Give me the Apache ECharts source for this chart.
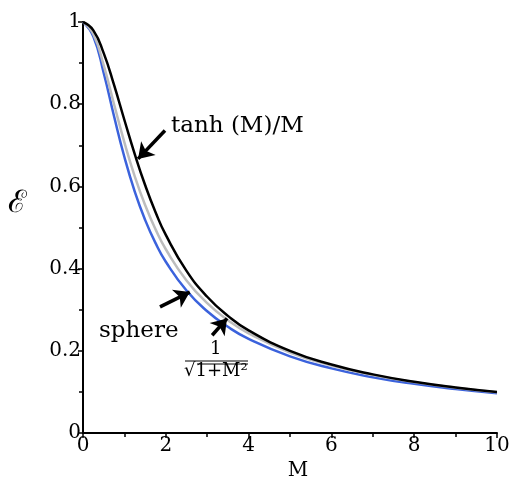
<!DOCTYPE html>
<html>
<head>
<meta charset="utf-8">
<script src="https://cdn.jsdelivr.net/npm/echarts@6/dist/echarts.min.js"></script>
<style>
  html, body { margin: 0; padding: 0; background: #fff; }
  #chart { width: 513px; height: 486px; }
</style>
</head>
<body>
<div id="chart"></div>
<script>
var M = [0, 0.25, 0.5, 0.75, 1, 1.25, 1.5, 1.75, 2, 2.5, 3, 3.5, 4, 5, 6, 7, 8, 9, 10];
// tanh(M)/M
var slab = [1, 0.9797, 0.9242, 0.8468, 0.7616, 0.6787, 0.6034, 0.5379, 0.4820, 0.3946, 0.3317, 0.2852, 0.2498, 0.2000, 0.1667, 0.1429, 0.1250, 0.1111, 0.1000];
// 1/sqrt(1+M^2)
var approx = [1, 0.9701, 0.8944, 0.8000, 0.7071, 0.6247, 0.5547, 0.4961, 0.4472, 0.3714, 0.3162, 0.2747, 0.2425, 0.1961, 0.1644, 0.1414, 0.1240, 0.1104, 0.0995];
// sphere
var sphere = [1, 0.9648, 0.8763, 0.7708, 0.6716, 0.5875, 0.5187, 0.4626, 0.4167, 0.3467, 0.2963, 0.2585, 0.2292, 0.1867, 0.1574, 0.1361, 0.1198, 0.1070, 0.0967];

// arrows [from, to] in data units
var arrows = [
  [[1.98, 0.736], [1.33, 0.667]],
  [[1.86, 0.307], [2.58, 0.343]],
  [[3.12, 0.238], [3.48, 0.279]]
];

function pairs(ys) {
  return M.map(function (m, i) { return [m, ys[i]]; });
}

var font = 'DejaVu Serif';
var chart = echarts.init(document.getElementById('chart'));

var option = {
  animation: false,
  grid: { left: 83, right: 16, top: 22, bottom: 44 },
  xAxis: {
    type: 'value', min: 0, max: 10, interval: 2,
    axisLine: { lineStyle: { color: '#000', width: 2 } },
    axisTick: { length: 5, lineStyle: { color: '#000', width: 1.5 } },
    minorTick: { show: true, splitNumber: 2, length: 4, lineStyle: { color: '#000', width: 1.5 } },
    splitLine: { show: false },
    axisLabel: { color: '#000', fontFamily: font, fontSize: 20, margin: 3 },
    name: 'M', nameLocation: 'middle', nameGap: 26,
    nameTextStyle: { color: '#000', fontFamily: font, fontSize: 20, padding: [0, 0, 0, 16] }
  },
  yAxis: {
    type: 'value', min: 0, max: 1, interval: 0.2,
    axisLine: { show: true, lineStyle: { color: '#000', width: 2 } },
    axisTick: { show: true, length: 5, lineStyle: { color: '#000', width: 1.5 } },
    minorTick: { show: true, splitNumber: 2, length: 4, lineStyle: { color: '#000', width: 1.5 } },
    splitLine: { show: false },
    axisLabel: { color: '#000', fontFamily: font, fontSize: 20, margin: 2 }
  },
  series: [
    {
      type: 'line', data: pairs(sphere), smooth: true, symbol: 'none',
      lineStyle: { color: '#3b62dc', width: 2.5 }
    },
    {
      type: 'line', data: pairs(approx), smooth: true, symbol: 'none',
      lineStyle: { color: '#bdbdbd', width: 2.5 }
    },
    {
      type: 'line', data: pairs(slab), smooth: true, symbol: 'none',
      lineStyle: { color: '#000', width: 2.5 },
      markLine: {
        silent: true,
        symbol: ['none', 'arrow'],
        symbolSize: 15,
        label: { show: false },
        itemStyle: { color: '#000' },
        lineStyle: { color: '#000', width: 3.5, type: 'solid' },
        data: arrows.map(function (a) {
          return [{ coord: a[0] }, { coord: a[1] }];
        })
      }
    }
  ],
  graphic: [
    { type: 'text', left: 8, top: 188, style: { text: 'ℰ', font: '31px ' + font, fill: '#000' } },
    { type: 'text', left: 171, top: 115, style: { text: 'tanh (M)/M', font: '23px ' + font, fill: '#000' } },
    { type: 'text', left: 99, top: 320, style: { text: 'sphere', font: '23px ' + font, fill: '#000' } },
    { type: 'text', left: 210, top: 340, style: { text: '1', font: '18px ' + font, fill: '#000' } },
    { type: 'line', shape: { x1: 185, y1: 361, x2: 248, y2: 361 }, style: { stroke: '#000', lineWidth: 1 } },
    { type: 'text', left: 184, top: 362, style: { text: '√1+M²', font: '18px ' + font, fill: '#000' } },
    { type: 'line', shape: { x1: 197, y1: 364, x2: 248, y2: 364 }, style: { stroke: '#000', lineWidth: 1 } }
  ]
};

chart.setOption(option);
</script>
</body>
</html>
